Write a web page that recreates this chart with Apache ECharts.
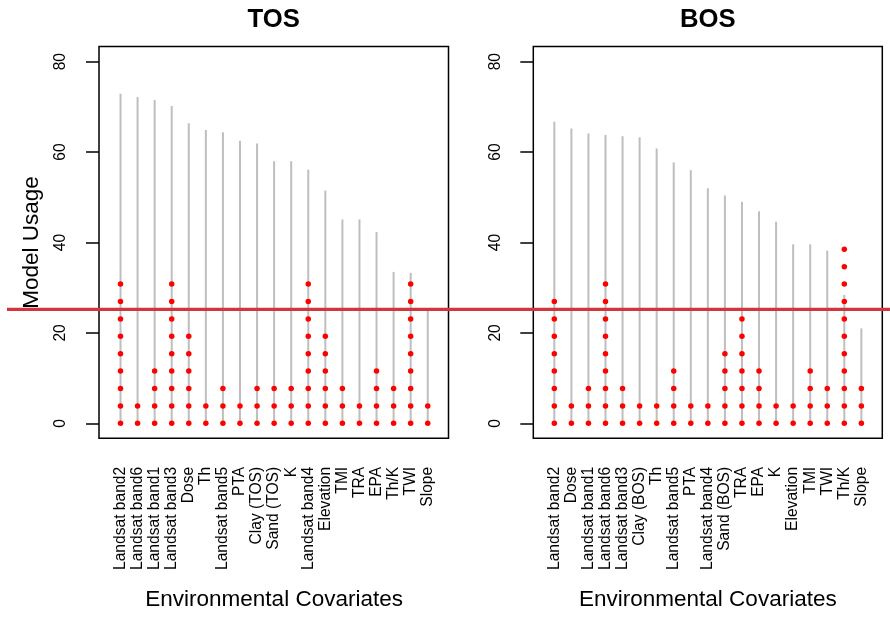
<!DOCTYPE html>
<html>
<head>
<meta charset="utf-8">
<script src="https://cdn.jsdelivr.net/npm/echarts@6/dist/echarts.min.js"></script>
<style>
  html, body { margin: 0; padding: 0; background: #fff; }
  #chart { width: 890px; height: 617px; }
</style>
</head>
<body>
<div id="chart"></div>
<script>
// Covariate usage for the two soil models (percent of models), sorted by total usage.
const tosCovariates = ['Landsat band2', 'Landsat band6', 'Landsat band1', 'Landsat band3', 'Dose', 'Th',
  'Landsat band5', 'PTA', 'Clay (TOS)', 'Sand (TOS)', 'K', 'Landsat band4', 'Elevation', 'TMI', 'TRA',
  'EPA', 'Th/K', 'TWI', 'Slope'];
const tosUsage = [72.9, 72.2, 71.5, 70.2, 66.4, 64.9, 64.4, 62.5, 61.9, 58.0, 58.0, 56.1, 51.5, 45.1, 45.1,
  42.3, 33.5, 33.3, 25.0];
const tosDotCounts = [9, 2, 4, 9, 6, 2, 3, 2, 3, 3, 3, 9, 6, 3, 2, 4, 3, 9, 2];

const bosCovariates = ['Landsat band2', 'Dose', 'Landsat band1', 'Landsat band6', 'Landsat band3', 'Clay (BOS)',
  'Th', 'Landsat band5', 'PTA', 'Landsat band4', 'Sand (BOS)', 'TRA', 'EPA', 'K', 'Elevation', 'TMI',
  'TWI', 'Th/K', 'Slope'];
const bosUsage = [66.7, 65.2, 64.1, 63.8, 63.5, 63.3, 60.8, 57.7, 56.0, 52.0, 50.4, 49.0, 46.9, 44.6, 39.6,
  39.6, 38.2, 28.4, 21.0];
const bosDotCounts = [8, 2, 3, 9, 3, 2, 2, 4, 2, 2, 5, 7, 4, 2, 2, 4, 3, 11, 3];

// Each red dot is one step of usage on the same scale.
const dotStep = 3.85;
// Horizontal reference line across both panels.
const cutoff = 25.2;

const yMin = 0, yMax = 80, yInterval = 20;

const FONT = '"Liberation Sans", Arial, sans-serif';

function dotPoints(counts) {
  const pts = [];
  counts.forEach((n, i) => {
    for (let k = 0; k < n; k++) pts.push([i, k * dotStep]);
  });
  return pts;
}

function panelAxes(gridIndex, categories, yOffset, yName) {
  const x = {
    type: 'category', gridIndex, data: categories, boundaryGap: true, offset: 15,
    axisLine: { show: false },
    axisTick: { alignWithLabel: true, interval: 0, length: 14, lineStyle: { color: '#000', width: 1.5 } },
    axisLabel: { rotate: 90, interval: 0, margin: 28.5, fontSize: 15.6, color: '#000', fontFamily: FONT },
    name: 'Environmental Covariates', nameLocation: 'middle', nameGap: 150,
    nameTextStyle: { fontSize: 22.5, color: '#000', fontFamily: FONT }
  };
  const y = {
    type: 'value', gridIndex, min: yMin, max: yMax, interval: yInterval, offset: yOffset,
    axisLine: { show: false },
    axisTick: { show: true, length: 13, lineStyle: { color: '#000', width: 1.5 } },
    axisLabel: { rotate: 90, margin: 30, fontSize: 15.6, color: '#000', fontFamily: FONT },
    splitLine: { show: false }
  };
  if (yName) {
    Object.assign(y, {
      name: yName, nameLocation: 'middle', nameRotate: 90, nameGap: 56,
      nameTextStyle: { fontSize: 22.5, color: '#000', fontFamily: FONT }
    });
  }
  return { x, y };
}

const tosAxes = panelAxes(1, tosCovariates, 12.97, 'Model Usage');
const bosAxes = panelAxes(3, bosCovariates, 12.5, null);

const option = {
  backgroundColor: '#fff',
  animation: false,
  graphic: [
    { type: 'text', x: 273.7, y: 19.5, style: { text: 'TOS', textAlign: 'center', textVerticalAlign: 'middle',
      font: 'bold 25.7px ' + FONT, fill: '#000' } },
    { type: 'text', x: 707.8, y: 19.5, style: { text: 'BOS', textAlign: 'center', textVerticalAlign: 'middle',
      font: 'bold 25.7px ' + FONT, fill: '#000' } }
  ],
  grid: [
    // panel frames
    { left: 99, top: 46.5, width: 349.5, height: 391.8, show: true, borderColor: '#000', borderWidth: 1.5, backgroundColor: 'transparent' },
    // TOS plotting area
    { left: 111.97, top: 61.7, width: 324.3, height: 361.6 },
    { left: 533.3, top: 46.5, width: 349, height: 391.8, show: true, borderColor: '#000', borderWidth: 1.5, backgroundColor: 'transparent' },
    // BOS plotting area
    { left: 545.8, top: 61.7, width: 324.1, height: 361.6 },
    // full-width layer for the reference line
    { left: 7, right: 0, top: 61.7, height: 361.6 }
  ],
  xAxis: [
    tosAxes.x,
    bosAxes.x,
    { type: 'value', gridIndex: 4, min: 0, max: 1, show: false }
  ],
  yAxis: [
    tosAxes.y,
    bosAxes.y,
    { type: 'value', gridIndex: 4, min: yMin, max: yMax, show: false }
  ],
  series: [
    { type: 'bar', xAxisIndex: 0, yAxisIndex: 0, data: tosUsage, barWidth: 2,
      itemStyle: { color: '#bebebe' }, silent: true, z: 2 },
    { type: 'scatter', xAxisIndex: 0, yAxisIndex: 0, data: dotPoints(tosDotCounts), symbol: 'circle',
      symbolSize: 5.5, itemStyle: { color: '#ff0000', opacity: 1 }, silent: true, z: 3 },
    { type: 'bar', xAxisIndex: 1, yAxisIndex: 1, data: bosUsage, barWidth: 2,
      itemStyle: { color: '#bebebe' }, silent: true, z: 2 },
    { type: 'scatter', xAxisIndex: 1, yAxisIndex: 1, data: dotPoints(bosDotCounts), symbol: 'circle',
      symbolSize: 5.5, itemStyle: { color: '#ff0000', opacity: 1 }, silent: true, z: 3 },
    { type: 'line', xAxisIndex: 2, yAxisIndex: 2, data: [[0, cutoff], [1, cutoff]], symbol: 'none',
      lineStyle: { color: '#d2353b', width: 3.3 }, silent: true, z: 10 }
  ]
};

const chart = echarts.init(document.getElementById('chart'), null, { renderer: 'canvas' });
chart.setOption(option);
</script>
</body>
</html>
